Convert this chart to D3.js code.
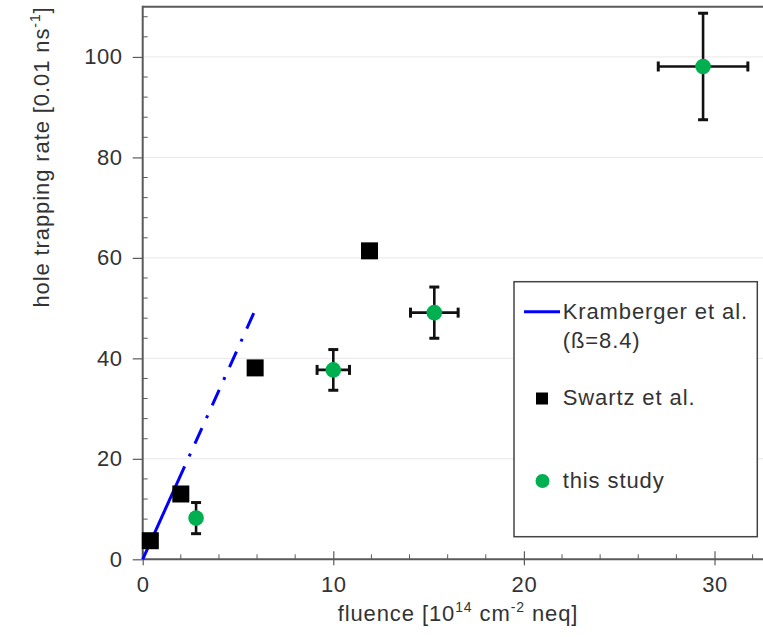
<!DOCTYPE html>
<html>
<head>
<meta charset="utf-8">
<script src="https://cdn.jsdelivr.net/npm/d3@7"></script>
<style>
  html, body { margin: 0; padding: 0; background: #fff; }
  svg { display: block; font-family: "Liberation Sans", Arial, sans-serif; }
</style>
</head>
<body>
<div id="chart"></div>
<script>
// Hole trapping rate vs fluence

const xMajorTicks = [0, 10, 20, 30];
const yMajorTicks = [0, 20, 40, 60, 80, 100];

// Kramberger et al. (beta = 8.4): solid part, then dash-dot extrapolation
const krambergerFluence = [0, 2.2, 5.9];
const krambergerRate = [0, 18.5, 49.6];

// Swartz et al.
const swartzFluence = [0.4, 2.0, 5.9, 11.9];
const swartzRate = [3.7, 13.0, 38.1, 61.4];

// this study, with error bars
const studyFluence = [2.8, 10.0, 15.3, 29.4];
const studyRate = [8.2, 37.7, 49.1, 98.1];
const studyFluenceErr = [0, 0.85, 1.25, 2.35];
const studyRateErr = [3.1, 4.05, 5.1, 10.6];

function drawChart(container) {
    const width = 763;
    const height = 637;
    const plot = { left: 142.7, top: 6.7, bottom: 559.3 };
    const axisColor = "#5a5a5a";
    const textColor = "#333";

    const svg = d3.select(container)
        .append("svg")
        .attr("width", width)
        .attr("height", height);

    // x runs past the right edge of the page
    const x = d3.scaleLinear().domain([0, 35]).range([plot.left, plot.left + 35 * 19.06]);
    const y = d3.scaleLinear().domain([0, 110]).range([plot.bottom, plot.top]);

    // horizontal gridlines
    svg.append("g")
        .selectAll("line")
        .data(yMajorTicks.filter(d => d > 0))
        .join("line")
        .attr("x1", plot.left)
        .attr("x2", width)
        .attr("y1", d => y(d))
        .attr("y2", d => y(d))
        .attr("stroke", "#e8e8e8")
        .attr("stroke-width", 1);

    // top frame line
    svg.append("line")
        .attr("x1", plot.left)
        .attr("x2", width)
        .attr("y1", plot.top)
        .attr("y2", plot.top)
        .attr("stroke", axisColor)
        .attr("stroke-width", 2);

    // minor ticks (inside)
    const xMinor = d3.range(2, 35, 2).filter(d => d % 10 !== 0);
    const yMinor = d3.range(4, 110, 4).filter(d => d % 20 !== 0);

    svg.append("g")
        .selectAll("line")
        .data(xMinor)
        .join("line")
        .attr("x1", d => x(d))
        .attr("x2", d => x(d))
        .attr("y1", plot.bottom)
        .attr("y2", plot.bottom - 5)
        .attr("stroke", axisColor)
        .attr("stroke-width", 1);

    svg.append("g")
        .selectAll("line")
        .data(yMinor)
        .join("line")
        .attr("x1", plot.left)
        .attr("x2", plot.left + 5)
        .attr("y1", d => y(d))
        .attr("y2", d => y(d))
        .attr("stroke", axisColor)
        .attr("stroke-width", 1);

    // axes
    const xAxis = d3.axisBottom(x).tickValues(xMajorTicks).tickSize(6).tickPadding(11).tickSizeOuter(0);
    const yAxis = d3.axisLeft(y).tickValues(yMajorTicks).tickSize(10).tickPadding(10).tickSizeOuter(0);

    const styleTickText = g => g.selectAll(".tick text")
        .attr("font-size", 22)
        .attr("letter-spacing", 0.6)
        .attr("fill", textColor)
        .attr("font-family", null);

    svg.append("g")
        .attr("transform", `translate(0,${plot.bottom})`)
        .call(xAxis)
        .call(g => g.select(".domain").attr("stroke", axisColor).attr("stroke-width", 2).attr("d", `M${plot.left},0H${width}`))
        .call(g => g.selectAll(".tick line").attr("y1", -8).attr("stroke", axisColor).attr("stroke-width", 1.2))
        .call(styleTickText);

    svg.append("g")
        .attr("transform", `translate(${plot.left},0)`)
        .call(yAxis)
        .call(g => g.select(".domain").attr("stroke", axisColor).attr("stroke-width", 2).attr("d", `M0,${plot.bottom}V${plot.top - 1}`))
        .call(g => g.selectAll(".tick line").attr("stroke", axisColor).attr("stroke-width", 1.2))
        .call(styleTickText);

    // axis titles
    const xTitle = svg.append("text")
        .attr("x", 458)
        .attr("y", 621)
        .attr("text-anchor", "middle")
        .attr("font-size", 22)
        .attr("letter-spacing", 0.9)
        .attr("fill", textColor);
    xTitle.append("tspan").text("fluence [10");
    xTitle.append("tspan").attr("font-size", 14).attr("dy", -9).text("14");
    xTitle.append("tspan").attr("dy", 9).text(" cm");
    xTitle.append("tspan").attr("font-size", 14).attr("dy", -9).text("-2");
    xTitle.append("tspan").attr("dy", 9).text(" neq]");

    const yTitle = svg.append("text")
        .attr("transform", "rotate(-90)")
        .attr("x", -157)
        .attr("y", 49)
        .attr("text-anchor", "middle")
        .attr("font-size", 22)
        .attr("letter-spacing", 0.9)
        .attr("fill", textColor);
    yTitle.append("tspan").text("hole trapping rate [0.01 ns");
    yTitle.append("tspan").attr("font-size", 14).attr("dy", -9).text("-1");
    yTitle.append("tspan").attr("dy", 9).text("]");

    // Kramberger line
    const line = d3.line().x(d => x(d[0])).y(d => y(d[1]));
    const kram = krambergerFluence.map((f, i) => [f, krambergerRate[i]]);

    svg.append("path")
        .attr("d", line(kram.slice(0, 2)))
        .attr("fill", "none")
        .attr("stroke", "#0000ff")
        .attr("stroke-width", 3);

    svg.append("path")
        .attr("d", line(kram.slice(1)))
        .attr("fill", "none")
        .attr("stroke", "#0000ff")
        .attr("stroke-width", 3)
        .attr("stroke-dasharray", "17,11,3,11")
        .attr("stroke-dashoffset", 17);

    // Swartz squares
    const sq = 17;
    svg.append("g")
        .selectAll("rect")
        .data(swartzFluence.map((f, i) => ({ f, r: swartzRate[i] })))
        .join("rect")
        .attr("x", d => x(d.f) - sq / 2)
        .attr("y", d => y(d.r) - sq / 2)
        .attr("width", sq)
        .attr("height", sq)
        .attr("fill", "#000");

    // this study: error bars then points
    const study = studyFluence.map((f, i) => ({
        f, r: studyRate[i], fe: studyFluenceErr[i], re: studyRateErr[i]
    }));
    const cap = 5;
    const bars = svg.append("g")
        .attr("stroke", "#111")
        .attr("stroke-width", 2.6);

    study.forEach(d => {
        const cx = x(d.f), cy = y(d.r);
        const top = y(d.r + d.re), bot = y(d.r - d.re);
        bars.append("line").attr("x1", cx).attr("x2", cx).attr("y1", top).attr("y2", bot);
        bars.append("line").attr("x1", cx - cap).attr("x2", cx + cap).attr("y1", top).attr("y2", top).attr("stroke-width", 3);
        bars.append("line").attr("x1", cx - cap).attr("x2", cx + cap).attr("y1", bot).attr("y2", bot).attr("stroke-width", 3);
        if (d.fe > 0) {
            const l = x(d.f - d.fe), r = x(d.f + d.fe);
            bars.append("line").attr("x1", l).attr("x2", r).attr("y1", cy).attr("y2", cy);
            bars.append("line").attr("x1", l).attr("x2", l).attr("y1", cy - cap).attr("y2", cy + cap).attr("stroke-width", 3);
            bars.append("line").attr("x1", r).attr("x2", r).attr("y1", cy - cap).attr("y2", cy + cap).attr("stroke-width", 3);
        }
    });

    svg.append("g")
        .selectAll("circle")
        .data(study)
        .join("circle")
        .attr("cx", d => x(d.f))
        .attr("cy", d => y(d.r))
        .attr("r", 7.8)
        .attr("fill", "#00b050");

    // Legend
    const legend = svg.append("g");
    legend.append("rect")
        .attr("x", 514)
        .attr("y", 281.7)
        .attr("width", 243.3)
        .attr("height", 255)
        .attr("fill", "#fff")
        .attr("stroke", "#444")
        .attr("stroke-width", 1.5);

    legend.append("line")
        .attr("x1", 524).attr("x2", 560)
        .attr("y1", 311.7).attr("y2", 311.7)
        .attr("stroke", "#0000ff")
        .attr("stroke-width", 3);

    legend.append("rect")
        .attr("x", 536).attr("y", 392.5)
        .attr("width", 12).attr("height", 12)
        .attr("fill", "#000");

    legend.append("circle")
        .attr("cx", 542.5).attr("cy", 481)
        .attr("r", 7)
        .attr("fill", "#00b050");

    const legendText = [
        { t: "Kramberger et al.", y: 311.7 },
        { t: "(ß=8.4)", y: 340 },
        { t: "Swartz et al.", y: 397 },
        { t: "this study", y: 480 }
    ];
    legend.selectAll(".legend-label")
        .data(legendText)
        .join("text")
        .attr("class", "legend-label")
        .attr("x", 562.7)
        .attr("y", d => d.y)
        .attr("dy", "0.35em")
        .attr("font-size", 22)
        .attr("letter-spacing", 0.9)
        .attr("fill", textColor)
        .text(d => d.t);

    return svg.node();
}

drawChart(document.getElementById("chart"));
</script>
</body>
</html>
